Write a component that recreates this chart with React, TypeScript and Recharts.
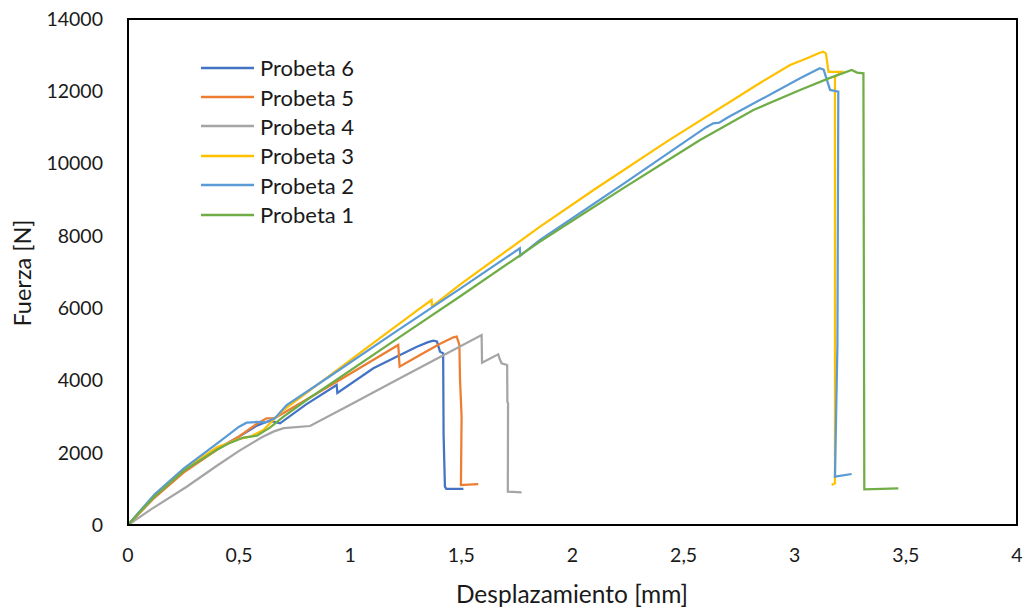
import { LineChart, Line, XAxis, YAxis, ReferenceArea } from 'recharts';

// Desplazamiento [mm] / Fuerza [N] for each probeta
const p6X = [0, 0.05, 0.12, 0.25, 0.4, 0.5, 0.58, 0.63, 0.654, 0.684, 0.8, 0.939, 0.942, 1.104, 1.224, 1.3, 1.35, 1.374, 1.39, 1.404, 1.418, 1.42, 1.426, 1.432, 1.509];
const p6Y = [0, 330, 780, 1480, 2100, 2450, 2750, 2870, 2860, 2813, 3330, 3874, 3652, 4336, 4704, 4930, 5060, 5100, 5080, 4795, 4750, 2500, 1061, 1000, 1000];

const p5X = [0, 0.05, 0.12, 0.25, 0.4, 0.5, 0.58, 0.624, 0.66, 0.7, 0.939, 1.216, 1.222, 1.314, 1.4, 1.464, 1.479, 1.491, 1.494, 1.501, 1.498, 1.51, 1.576];
const p5Y = [0, 320, 760, 1450, 2080, 2450, 2800, 2951, 2960, 3100, 3966, 4980, 4381, 4704, 5000, 5193, 5211, 4981, 4012, 2997, 1107, 1110, 1130];

const p4X = [0, 0.1, 0.264, 0.4, 0.5, 0.6, 0.654, 0.7, 0.819, 1.0, 1.2, 1.4, 1.591, 1.593, 1.666, 1.672, 1.681, 1.706, 1.707, 1.71, 1.709, 1.771];
const p4Y = [0, 420, 1060, 1640, 2050, 2420, 2583, 2680, 2739, 3330, 3982, 4634, 5257, 4492, 4723, 4600, 4474, 4427, 3412, 3367, 922, 900];

const p3X = [0, 0.05, 0.12, 0.25, 0.4, 0.5, 0.549, 0.609, 0.699, 0.9, 1.1, 1.3, 1.366, 1.368, 1.5, 1.854, 2.1, 2.424, 2.829, 2.979, 3.05, 3.11, 3.128, 3.14, 3.152, 3.21, 3.181, 3.181, 3.166];
const p3Y = [0, 340, 800, 1520, 2150, 2380, 2444, 2629, 3182, 4100, 5020, 5930, 6226, 6050, 6680, 8254, 9290, 10607, 12175, 12728, 12900, 13060, 13097, 13050, 12540, 12540, 12400, 1152, 1107];

const p2X = [0, 0.05, 0.12, 0.25, 0.4, 0.5, 0.534, 0.58, 0.62, 0.66, 0.714, 0.9, 1.2, 1.5, 1.763, 1.765, 1.854, 2.229, 2.6, 2.633, 2.66, 2.7, 3.024, 3.113, 3.13, 3.159, 3.196, 3.192, 3.181, 3.256];
const p2Y = [0, 360, 850, 1560, 2250, 2720, 2830, 2850, 2840, 2950, 3320, 4080, 5330, 6560, 7656, 7450, 7886, 9440, 11000, 11115, 11130, 11280, 12360, 12636, 12600, 12037, 11990, 5000, 1337, 1411];

const p1X = [0, 0.05, 0.12, 0.25, 0.4, 0.45, 0.52, 0.58, 0.64, 0.7, 0.804, 1.2, 1.5, 1.854, 2.05, 2.229, 2.4, 2.574, 2.814, 3.024, 3.15, 3.256, 3.28, 3.309, 3.313, 3.466];
const p1Y = [0, 340, 790, 1500, 2080, 2250, 2420, 2470, 2700, 3000, 3459, 5110, 6350, 7839, 8620, 9320, 9980, 10653, 11483, 12037, 12350, 12590, 12517, 12498, 987, 1015];

const xTicks = [0, 0.5, 1, 1.5, 2, 2.5, 3, 3.5, 4];
const yTicks = [0, 2000, 4000, 6000, 8000, 10000, 12000, 14000];

const toPoints = (xs: number[], ys: number[]) => xs.map((x, i) => ({ x, y: ys[i] }));

const series = [
  { name: 'Probeta 6', color: '#4472C4', data: toPoints(p6X, p6Y) },
  { name: 'Probeta 5', color: '#ED7D31', data: toPoints(p5X, p5Y) },
  { name: 'Probeta 4', color: '#A5A5A5', data: toPoints(p4X, p4Y) },
  { name: 'Probeta 3', color: '#FFC000', data: toPoints(p3X, p3Y) },
  { name: 'Probeta 2', color: '#5B9BD5', data: toPoints(p2X, p2Y) },
  { name: 'Probeta 1', color: '#70AD47', data: toPoints(p1X, p1Y) },
];

const font = 'Lato, "Liberation Sans", sans-serif';

const App = () => {
  return (
    <div style={{ position: 'absolute', left: 0, top: 0, width: 1027, height: 612, background: '#fff', fontFamily: font }}>
      <LineChart width={1027} height={612} margin={{ top: 19, right: 10, left: 0, bottom: 0 }}>
        <XAxis
          dataKey="x"
          type="number"
          domain={[0, 4]}
          ticks={xTicks}
          allowDataOverflow
          height={87}
          tickLine={false}
          tickSize={0}
          tickMargin={23}
          axisLine={{ stroke: '#000', strokeWidth: 2 }}
          tick={{ fill: '#1a1a1a', fontSize: 19.5, fontFamily: font }}
          tickFormatter={(v: number) => String(v).replace('.', ',')}
        />
        <YAxis
          type="number"
          domain={[0, 14000]}
          ticks={yTicks}
          width={128}
          tickLine={false}
          tickSize={0}
          tickMargin={25}
          axisLine={{ stroke: '#000', strokeWidth: 2 }}
          tick={{ fill: '#1a1a1a', fontSize: 19.5, fontFamily: font }}
        />
        <ReferenceArea x1={0} x2={4} y1={0} y2={14000} fill="none" stroke="#000" strokeWidth={2} />
        {series.map((s) => (
          <Line
            key={s.name}
            data={s.data}
            dataKey="y"
            name={s.name}
            type="linear"
            stroke={s.color}
            strokeWidth={2.25}
            dot={false}
            isAnimationActive={false}
          />
        ))}
      </LineChart>

      <div style={{ position: 'absolute', left: 0, width: 1027, top: 579, textAlign: 'center', paddingLeft: 117, boxSizing: 'border-box', fontSize: 24.5, color: '#1a1a1a' }}>
        Desplazamiento [mm]
      </div>
      <div
        style={{
          position: 'absolute',
          left: 22,
          top: 273,
          transform: 'translate(-50%, -50%) rotate(-90deg)',
          whiteSpace: 'nowrap',
          fontSize: 23.5,
          color: '#1a1a1a',
        }}
      >
        Fuerza [N]
      </div>

      <div style={{ position: 'absolute', left: 201, top: 53 }}>
        {series.map((s) => (
          <div key={s.name} style={{ display: 'flex', alignItems: 'center', height: 29.4 }}>
            <svg width={53} height={4} style={{ marginRight: 6 }}>
              <line x1={0} y1={2} x2={53} y2={2} stroke={s.color} strokeWidth={2.5} />
            </svg>
            <span style={{ fontSize: 22, color: '#1a1a1a' }}>{s.name}</span>
          </div>
        ))}
      </div>
    </div>
  );
};

export default App;
